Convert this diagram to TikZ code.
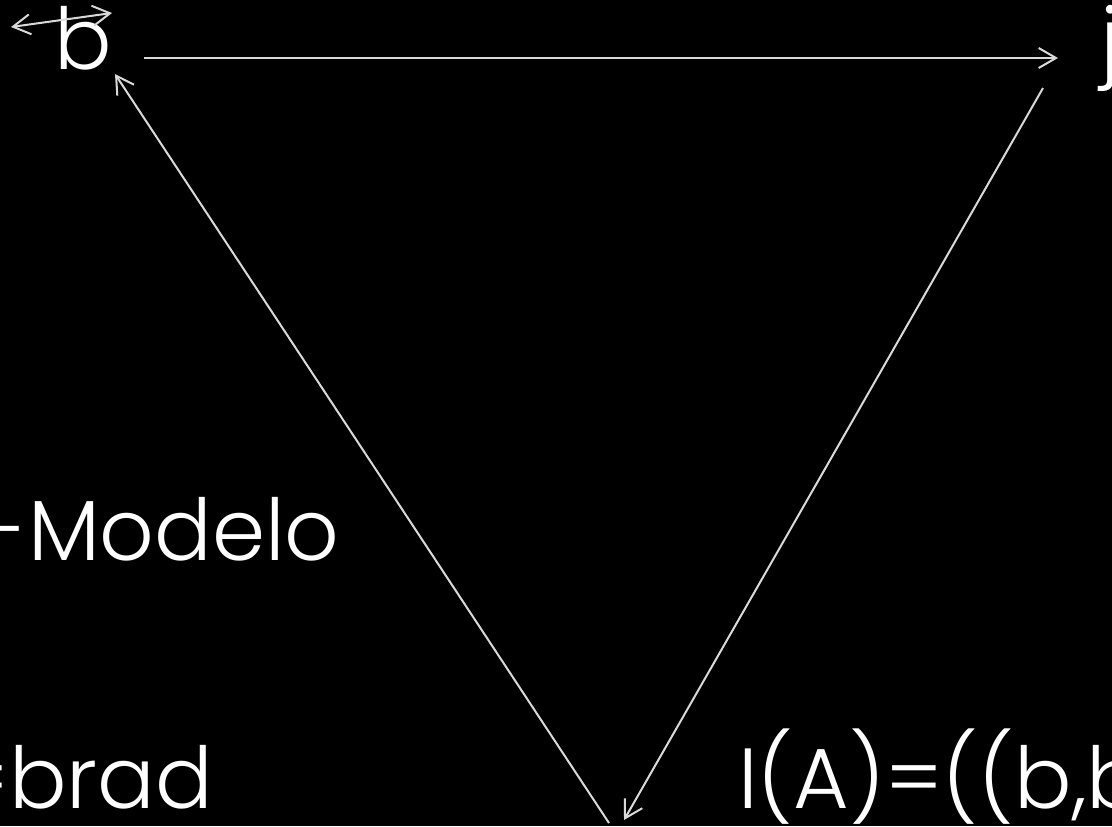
\documentclass[tikz,border=0pt]{standalone}
\usepackage{fontspec}
\setmainfont{Poppins Light}
\usetikzlibrary{arrows.meta}
\definecolor{linegray}{HTML}{D9D9D9}
\begin{document}
\begin{tikzpicture}[x=0.75pt,y=-0.75pt,
  lbl/.style={text=white,font=\fontsize{64}{70}\selectfont,inner sep=0pt},
  tipb/.tip={Straight Barb[length=13pt,width=15pt,line width=1.5pt]},
  conn/.style={draw=linegray,line width=1.5pt,-tipb},
  dconn/.style={draw=linegray,line width=1.5pt,tipb-tipb}]
\useasboundingbox (0,0) rectangle (1112,826);
\fill[black] (0,0) rectangle (1112,826);
\clip (0,0) rectangle (1112,826);
% labels
\node[lbl,anchor=base] (b) at (83,69) {b};
\node[lbl,anchor=base west] (j) at (1100,69) {j};
\node[lbl,anchor=base east] (modelo) at (340,560) {-Modelo};
\node[lbl,anchor=base east] (brad) at (213,808) {=brad};
\node[lbl,anchor=base west] (ia) at (738,808) {I(A)=((b,b};
% connector ends
\coordinate (bR) at (144,58);
\coordinate (jL) at (1058,58);
\coordinate (jB) at (1043,88);
\coordinate (botR) at (624,820);
\coordinate (botL) at (609,823);
\coordinate (bB) at (115,74);
\coordinate (loopL) at (11,27);
\coordinate (loopR) at (112,13);
% connectors
\draw[conn] (bR) -- (jL);
\draw[conn] (jB) -- (botR);
\draw[conn] (botL) -- (bB);
\draw[dconn] (loopL) -- (loopR);
\end{tikzpicture}
\end{document}
